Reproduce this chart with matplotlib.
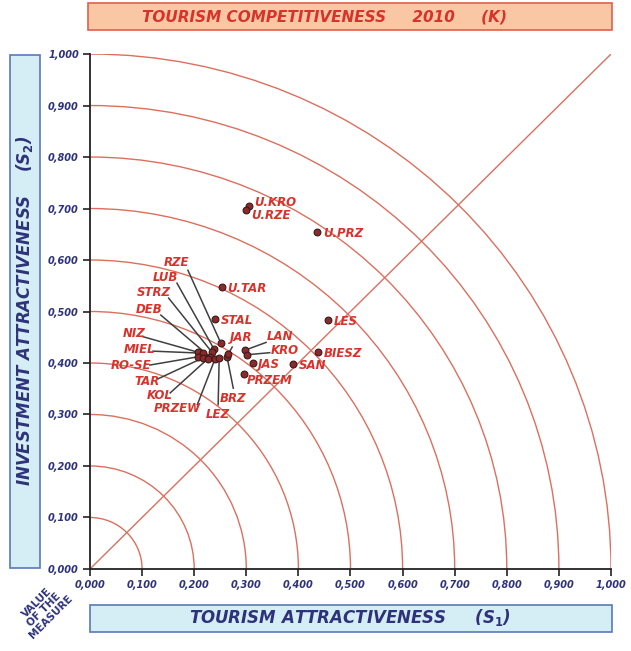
import numpy as np
from matplotlib import pyplot as plt
from matplotlib.patches import Rectangle, Arc

# regions: S1 (tourism attractiveness), S2 (investment attractiveness)
names = ['U.KRO', 'U.RZE', 'U.PRZ', 'U.TAR', 'STAL', 'LES', 'BIESZ', 'SAN',
         'JAS', 'LAN', 'KRO', 'PRZEM',
         'RZE', 'LUB', 'STRZ', 'DEB', 'NIZ', 'MIEL', 'RO-SE', 'TAR', 'KOL',
         'PRZEW', 'LEZ', 'BRZ', 'JAR']
s1 = [0.305, 0.300, 0.436, 0.253, 0.240, 0.457, 0.438, 0.390,
      0.313, 0.298, 0.301, 0.296,
      0.251, 0.238, 0.234, 0.230, 0.207, 0.217, 0.207, 0.217, 0.226,
      0.240, 0.248, 0.263, 0.265]
s2 = [0.705, 0.697, 0.654, 0.548, 0.485, 0.483, 0.421, 0.398,
      0.400, 0.425, 0.416, 0.379,
      0.439, 0.427, 0.421, 0.412, 0.421, 0.419, 0.412, 0.410, 0.408,
      0.408, 0.410, 0.412, 0.417]

radii = [0.1, 0.2, 0.3, 0.4, 0.5, 0.6, 0.7, 0.8, 0.9, 1.0]
ticks = [0.0, 0.1, 0.2, 0.3, 0.4, 0.5, 0.6, 0.7, 0.8, 0.9, 1.0]

# label placement: (text x, text y, ha, leader line start or None)
label_pos = {
    'U.KRO': (0.315, 0.712, 'left', None),
    'U.RZE': (0.309, 0.686, 'left', None),
    'U.PRZ': (0.447, 0.651, 'left', None),
    'U.TAR': (0.264, 0.545, 'left', None),
    'STAL': (0.252, 0.482, 'left', None),
    'LES': (0.468, 0.480, 'left', None),
    'BIESZ': (0.449, 0.418, 'left', None),
    'SAN': (0.401, 0.395, 'left', None),
    'JAS': (0.323, 0.397, 'left', None),
    'LAN': (0.340, 0.451, 'left', (0.338, 0.440)),
    'KRO': (0.347, 0.424, 'left', (0.345, 0.420)),
    'PRZEM': (0.300, 0.366, 'left', None),
    'RZE': (0.190, 0.596, 'right', (0.188, 0.580)),
    'LUB': (0.170, 0.567, 'right', (0.167, 0.555)),
    'STRZ': (0.155, 0.536, 'right', (0.151, 0.526)),
    'DEB': (0.139, 0.503, 'right', (0.136, 0.493)),
    'NIZ': (0.107, 0.457, 'right', (0.102, 0.451)),
    'MIEL': (0.125, 0.426, 'right', (0.121, 0.423)),
    'RO-SE': (0.117, 0.396, 'right', (0.115, 0.396)),
    'TAR': (0.134, 0.364, 'right', (0.130, 0.369)),
    'KOL': (0.159, 0.336, 'right', (0.154, 0.342)),
    'PRZEW': (0.213, 0.312, 'right', (0.206, 0.319)),
    'LEZ': (0.246, 0.300, 'center', (0.246, 0.319)),
    'BRZ': (0.275, 0.332, 'center', (0.275, 0.351)),
    'JAR': (0.269, 0.450, 'left', (0.273, 0.431)),
}

red = '#d8322b'
navy = '#2e327a'
arc_col = '#dc6f5e'

fig = plt.figure(figsize=(6.31, 6.51), dpi=100)
ax = fig.add_axes([0.1426, 0.126, 0.8257, 0.791])

for r in radii:
    ax.add_patch(Arc((0, 0), 2 * r, 2 * r, theta1=0, theta2=90, color=arc_col, lw=1.0, zorder=1))
ax.plot([0, 1], [0, 1], color=arc_col, lw=1.0, zorder=1)

for n, x, y in zip(names, s1, s2):
    tx, ty, ha, start = label_pos[n]
    if start is not None:
        ax.plot([start[0], x], [start[1], y], color='#404040', lw=1.1, zorder=2)
    ax.text(tx, ty, n, color=red, fontsize=8.5, fontweight='bold', fontstyle='italic',
            ha=ha, va='center', zorder=4)

ax.scatter(s1, s2, s=24, color='#8a2a2a', edgecolor='#3a1a1a', linewidth=0.8, zorder=3)

ax.set_xlim(0, 1)
ax.set_ylim(0, 1)
ax.set_xticks(ticks)
ax.set_yticks(ticks)
fmt = [f'{t:.3f}'.replace('.', ',') for t in ticks]
ax.set_xticklabels(fmt)
ax.set_yticklabels(fmt)
for lab in ax.get_xticklabels() + ax.get_yticklabels():
    lab.set_fontweight('bold')
    lab.set_fontstyle('italic')
    lab.set_color(navy)
    lab.set_fontsize(7)
ax.tick_params(direction='out', length=5, width=1.2, color='#222222', pad=3)
ax.spines['top'].set_visible(False)
ax.spines['right'].set_visible(False)
ax.spines['left'].set_linewidth(1.3)
ax.spines['bottom'].set_linewidth(1.3)
ax.spines['left'].set_color('#222222')
ax.spines['bottom'].set_color('#222222')

# title box
fig.patches.append(Rectangle((88 / 631, 1 - 30 / 651), 524 / 631, 27 / 651, transform=fig.transFigure,
                             facecolor='#f9c7a4', edgecolor='#e0604a', lw=1.2))
fig.text(325 / 631, 1 - 16.5 / 651, 'TOURISM COMPETITIVENESS     2010     (K)', color=red,
         fontsize=11, fontweight='bold', fontstyle='italic', ha='center', va='center')

# y label box
fig.patches.append(Rectangle((10 / 631, 1 - 568 / 651), 30 / 631, 513 / 651, transform=fig.transFigure,
                             facecolor='#d5eef5', edgecolor='#5a78b8', lw=1.2))
fig.text(25 / 631, 1 - 311 / 651, r'INVESTMENT ATTRACTIVENESS    (S$_\mathbf{2}$)', color=navy,
         fontsize=12, fontweight='bold', fontstyle='italic', ha='center', va='center', rotation=90)

# x label box
fig.patches.append(Rectangle((90 / 631, 1 - 632 / 651), 522 / 631, 27 / 651, transform=fig.transFigure,
                             facecolor='#d5eef5', edgecolor='#5a78b8', lw=1.2))
fig.text(350 / 631, 1 - 618 / 651, r'TOURISM ATTRACTIVENESS     (S$_\mathbf{1}$)', color=navy,
         fontsize=12, fontweight='bold', fontstyle='italic', ha='center', va='center')

fig.text(44 / 631, 1 - 610 / 651, 'VALUE\nOF THE\nMEASURE', color=navy, fontsize=7.5,
         fontweight='bold', ha='center', va='center', rotation=45, linespacing=1.0)

fig.savefig('out.png', dpi=100)
